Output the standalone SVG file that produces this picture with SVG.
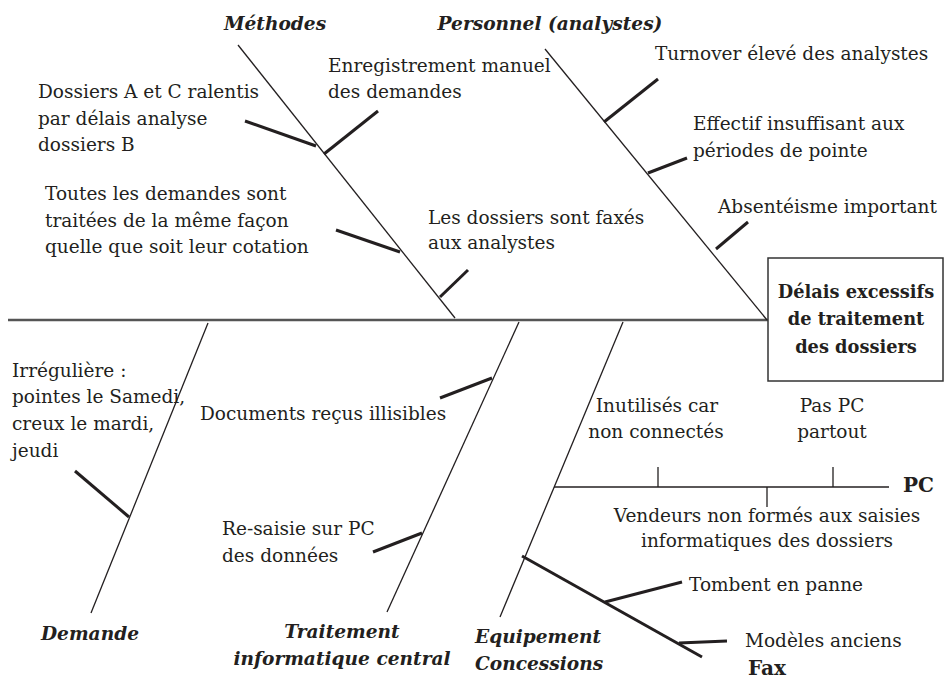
<svg xmlns="http://www.w3.org/2000/svg" width="944" height="681" viewBox="0 0 944 681" font-family="DejaVu Serif, serif">
<style>
text{font-size:18.5px;fill:#231f20}
.b{font-weight:bold;font-size:20px}
.bx{font-weight:bold;font-size:17.8px;text-anchor:middle}
.bi{font-weight:bold;font-style:italic;font-size:18.6px}
.m{text-anchor:middle}
.thin{stroke:#231f20;stroke-width:1.3;fill:none}
.thick{stroke:#231f20;stroke-width:3;fill:none}
</style>
<rect width="944" height="681" fill="#fff"/>
<g id="connectors">
<line x1="8" y1="320" x2="768" y2="320" stroke="#555" stroke-width="2.5"/>
<line class="thin" x1="238" y1="45" x2="455" y2="318"/>
<line class="thin" x1="545" y1="49" x2="767" y2="320"/>
<line class="thin" x1="208" y1="323" x2="91" y2="613"/>
<line class="thin" x1="519" y1="322" x2="387" y2="612"/>
<line class="thin" x1="623" y1="322" x2="500" y2="617"/>
<line class="thin" x1="554" y1="487" x2="889" y2="487"/>
<line class="thin" x1="658" y1="467" x2="658" y2="487"/>
<line class="thin" x1="833" y1="467" x2="833" y2="487"/>
<line class="thin" x1="767" y1="487" x2="767" y2="507"/>
<line class="thick" x1="245" y1="121" x2="316" y2="146"/>
<line class="thick" x1="378" y1="111" x2="324" y2="154"/>
<line class="thick" x1="336" y1="230" x2="400" y2="252"/>
<line class="thick" x1="440" y1="297" x2="468" y2="270"/>
<line class="thick" x1="604" y1="122" x2="658" y2="79"/>
<line class="thick" x1="648" y1="173" x2="687" y2="158"/>
<line class="thick" x1="716" y1="249" x2="748" y2="222"/>
<line class="thick" x1="75" y1="471" x2="129" y2="517"/>
<line class="thick" x1="440" y1="398" x2="492" y2="378"/>
<line class="thick" x1="373" y1="552" x2="422" y2="533"/>
<line class="thick" x1="522" y1="556" x2="702" y2="657"/>
<line class="thick" x1="605" y1="602" x2="682" y2="582"/>
<line class="thick" x1="679" y1="643" x2="727" y2="641"/>
</g>
<g id="effect">
<rect x="768" y="258" width="175" height="123" fill="#fff" stroke="#333" stroke-width="1.5"/>
<text class="bx" x="856" y="298">Délais excessifs</text>
<text class="bx" x="856" y="325">de traitement</text>
<text class="bx" x="856" y="353">des dossiers</text>
</g>
<g id="methodes">
<text class="bi m" x="275" y="30">Méthodes</text>
<text x="38" y="98">Dossiers A et C ralentis</text>
<text x="38" y="125">par délais analyse</text>
<text x="38" y="151">dossiers B</text>
<text x="328" y="72">Enregistrement manuel</text>
<text x="328" y="98">des demandes</text>
<text x="45" y="200">Toutes les demandes sont</text>
<text x="45" y="227">traitées de la même façon</text>
<text x="45" y="253">quelle que soit leur cotation</text>
<text x="428" y="224">Les dossiers sont faxés</text>
<text x="428" y="249">aux analystes</text>
</g>
<g id="personnel">
<text class="bi m" x="550" y="30">Personnel (analystes)</text>
<text x="655" y="60">Turnover élevé des analystes</text>
<text x="693" y="130">Effectif insuffisant aux</text>
<text x="693" y="157">périodes de pointe</text>
<text x="718" y="213">Absentéisme important</text>
</g>
<g id="demande">
<text class="bi m" x="90" y="640">Demande</text>
<text x="12" y="377">Irrégulière :</text>
<text x="12" y="403">pointes le Samedi,</text>
<text x="12" y="430">creux le mardi,</text>
<text x="12" y="457">jeudi</text>
</g>
<g id="traitement">
<text class="bi m" x="342" y="638">Traitement</text>
<text class="bi m" x="342" y="665">informatique central</text>
<text x="200" y="420">Documents reçus illisibles</text>
<text x="222" y="535">Re-saisie sur PC</text>
<text x="222" y="562">des données</text>
</g>
<g id="equipement">
<text class="bi" x="475" y="643">Equipement</text>
<text class="bi" x="475" y="670">Concessions</text>
<text class="b" x="903" y="492">PC</text>
<text class="m" x="657" y="412">Inutilisés car</text>
<text class="m" x="656" y="438">non connectés</text>
<text class="m" x="832" y="412">Pas PC</text>
<text class="m" x="832" y="438">partout</text>
<text class="m" x="767" y="522">Vendeurs non formés aux saisies</text>
<text class="m" x="767" y="547">informatiques des dossiers</text>
<text x="689" y="591">Tombent en panne</text>
<text x="745" y="647">Modèles anciens</text>
<text class="b" x="748" y="675">Fax</text>
</g>
</svg>
